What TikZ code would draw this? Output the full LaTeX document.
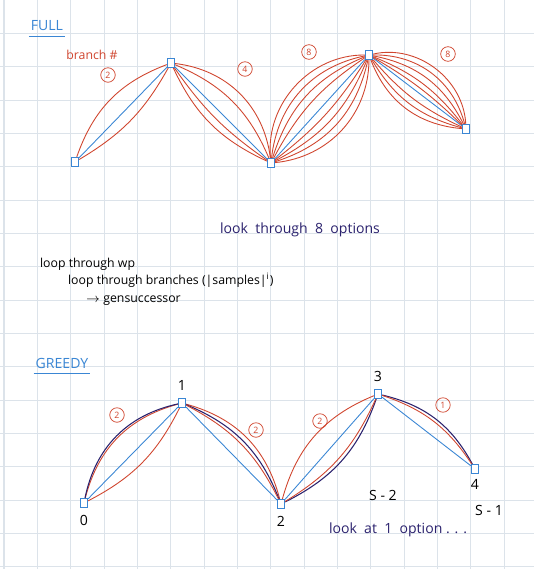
\documentclass[tikz,border=0pt]{standalone}
\usepackage{fontspec}
\setsansfont{Open Sans}
\usetikzlibrary{positioning}
\definecolor{penblue}{HTML}{3A86D4}
\definecolor{penred}{HTML}{D0452E}
\definecolor{pennavy}{HTML}{2B226E}
\definecolor{gridcolor}{HTML}{DCE3EA}
\begin{document}
\begin{tikzpicture}[
  x=0.02cm, y=-0.02cm,
  wp/.style={rectangle, draw=penblue, fill=white, line width=0.7pt,
             minimum width=4pt, minimum height=5pt, inner sep=0pt},
  route/.style={penblue, line width=0.5pt},
  branch/.style={penred, line width=0.5pt},
  pick/.style={pennavy, line width=0.6pt},
  circnum/.style={circle, draw=penred, text=penred, inner sep=1.3pt, font=\sffamily\tiny},
  hand/.style={font=\sffamily\footnotesize, inner sep=1pt},
  every node/.style={font=\sffamily\footnotesize}
]
  \useasboundingbox (0,0) rectangle (534,569);
  \fill[white] (0,0) rectangle (534,569);
  \foreach \i in {0,...,15}
    \draw[gridcolor, line width=0.6pt] (4+33.35*\i,0) -- (4+33.35*\i,569);
  \foreach \j in {1,...,17}
    \draw[gridcolor, line width=0.6pt] (0,33.35*\j) -- (534,33.35*\j);

  % full search
  \node[hand, text=penblue] (full) at (47,26) {FULL};
  \draw[penblue, line width=0.6pt] ([yshift=-2pt]full.south west) -- ([yshift=-2pt]full.south east);
  \node[hand, text=penred, font=\sffamily\scriptsize] (branchlbl) at (92,55) {branch \#};

  \node[wp] (A0) at (75,162) {};
  \node[wp] (A1) at (171,63) {};
  \node[wp] (A2) at (271,163) {};
  \node[wp] (A3) at (369,55) {};
  \node[wp] (A4) at (466,129) {};

  \draw[route] (A0) -- (A1) -- (A2) -- (A3) -- (A4);
  \foreach \b in {25} \draw[branch] (A0) to[bend left=\b] (A1);
  \foreach \b in {15} \draw[branch] (A0) to[bend right=\b] (A1);
  \foreach \b in {38,22} \draw[branch] (A1) to[bend left=\b] (A2);
  \foreach \b in {10,20} \draw[branch] (A1) to[bend right=\b] (A2);
  \foreach \b in {48,36,25,14} \draw[branch] (A2) to[bend left=\b] (A3);
  \foreach \b in {10,20,30,42} \draw[branch] (A2) to[bend right=\b] (A3);
  \foreach \b in {50,38,26,15,7} \draw[branch] (A3) to[bend left=\b] (A4);
  \foreach \b in {12,22,32} \draw[branch] (A3) to[bend right=\b] (A4);

  \node[circnum] (n01) at (108,75) {2};
  \node[circnum] (n12) at (245,69) {4};
  \node[circnum] (n23) at (309,52) {8};
  \node[circnum] (n34) at (448,54) {8};

  \node[hand, text=pennavy] (fullnote) at (300,230) {look\ \ through\ \ 8\ \ options};

  \node[hand, anchor=west, font=\sffamily\scriptsize] (loop1) at (38,264) {loop through wp};
  \node[hand, anchor=west, font=\sffamily\scriptsize] (loop2) at (66,280) {loop through branches (|samples|\textsuperscript{i})};
  \node[hand, anchor=west, font=\sffamily\scriptsize] (loop3) at (84,301) {$\rightarrow$ gensuccessor};

  % greedy search
  \node[hand, text=penblue] (greedy) at (62,363) {GREEDY};
  \draw[penblue, line width=0.6pt] ([yshift=-2pt]greedy.south west) -- ([yshift=-2pt]greedy.south east);

  \node[wp] (B0) at (84,503) {};
  \node[wp] (B1) at (182,403) {};
  \node[wp] (B2) at (281,504) {};
  \node[wp] (B3) at (378,394) {};
  \node[wp] (B4) at (475,469) {};

  \node[hand, below=3pt of B0] (l0) {0};
  \node[hand, above=3pt of B1] (l1) {1};
  \node[hand, below=3pt of B2] (l2) {2};
  \node[hand, above=3pt of B3] (l3) {3};
  \node[hand, below=2pt of B4] (l4) {4};

  \draw[route] (B0) -- (B1) -- (B2) -- (B3) -- (B4);
  \draw[branch] (B0) to[bend left=30] (B1);
  \draw[pick] (B0) to[bend left=33] (B1);
  \draw[branch] (B0) to[bend right=18] (B1);
  \draw[branch] (B1) to[bend left=30] (B2);
  \draw[pick] (B1) to[bend left=23] (B2);
  \draw[branch] (B1) to[bend left=18] (B2);
  \draw[branch] (B2) to[bend left=26] (B3);
  \draw[pick] (B2) to[bend right=22] (B3);
  \draw[branch] (B2) to[bend right=17] (B3);
  \draw[pick] (B3) to[bend left=24] (B4);
  \draw[branch] (B3) to[bend left=19] (B4);

  \node[circnum] (m01) at (117,415) {2};
  \node[circnum] (m12) at (256,430) {2};
  \node[circnum] (m23) at (320,421) {2};
  \node[circnum] (m34) at (443,405) {1};

  \node[hand] (s2) at (383,495) {S - 2};
  \node[hand] (s1) at (489,510) {S - 1};
  \node[hand, text=pennavy] (greedynote) at (398,530) {look\ \ at\ \ 1\ \ option . . .};
\end{tikzpicture}
\end{document}
